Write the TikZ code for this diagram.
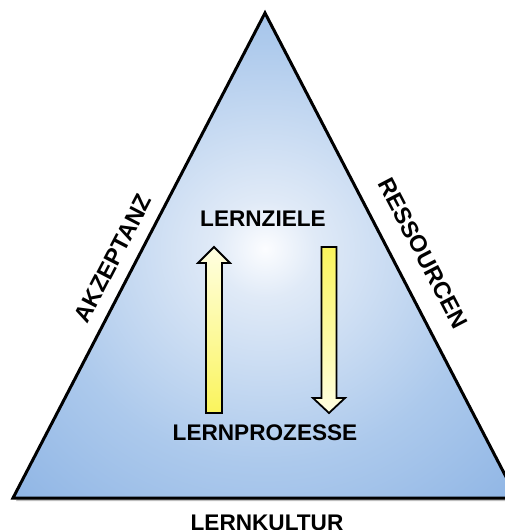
\documentclass[tikz,border=0pt]{standalone}
\usepackage{fontspec}
\setmainfont{Liberation Sans}
\usetikzlibrary{positioning,calc}

\definecolor{triwhite}{RGB}{252,253,255}
\definecolor{trilight}{RGB}{224,234,247}
\definecolor{trimid}{RGB}{172,201,236}
\definecolor{triblue}{RGB}{124,168,224}
\definecolor{triedge}{RGB}{96,152,216}
\definecolor{arrowpale}{RGB}{255,255,226}
\definecolor{arrowyellow}{RGB}{250,244,92}

\pgfdeclareradialshading{trishade}{\pgfpoint{0bp}{0.7bp}}{%
  color(0bp)=(triwhite); color(5bp)=(trilight); color(22bp)=(trimid);
  color(45bp)=(triblue); color(75bp)=(triedge)}

\begin{document}
\begin{tikzpicture}[x=1pt,y=-1pt,
    bigtext/.style={font=\fontsize{22.6}{22.6}\selectfont\bfseries},
    sidetext/.style={font=\fontsize{23.5}{23.5}\selectfont\bfseries},
    blockarrow/.style={draw=black, line width=1.8pt, line join=miter}]
    \useasboundingbox (0,0) rectangle (505,530);

    % Triangle with shadow
    \fill[black, opacity=0.25] (268,16) -- (520,501) -- (16,501) -- cycle;
    \shade[shading=trishade] (265,13) -- (517,498) -- (13,498) -- cycle;
    \draw[line width=3pt, line join=miter] (265,13) -- (517,498) -- (13,498) -- cycle;

    % Labels
    \node[bigtext] (ziele) at (263,219) {LERNZIELE};
    \node[bigtext] (prozesse) at (265,433) {LERNPROZESSE};
    \node[bigtext] (kultur) at (267,523) {LERNKULTUR};
    \node[sidetext, rotate=62.5] (akzeptanz) at (113,258) {AKZEPTANZ};
    \node[sidetext, rotate=-62.5] (ressourcen) at (423,253) {RESSOURCEN};

    % Up arrow
    \draw[blockarrow, top color=arrowpale, bottom color=arrowyellow]
        (206,413) -- (206,263) -- (198,263) -- (214,247) -- (230,263)
        -- (222,263) -- (222,413) -- cycle;
    % Down arrow
    \draw[blockarrow, top color=arrowyellow, bottom color=arrowpale]
        (321.5,247) -- (321.5,398) -- (313,398) -- (329,413) -- (345,398)
        -- (336.5,398) -- (336.5,247) -- cycle;

\end{tikzpicture}
\end{document}
